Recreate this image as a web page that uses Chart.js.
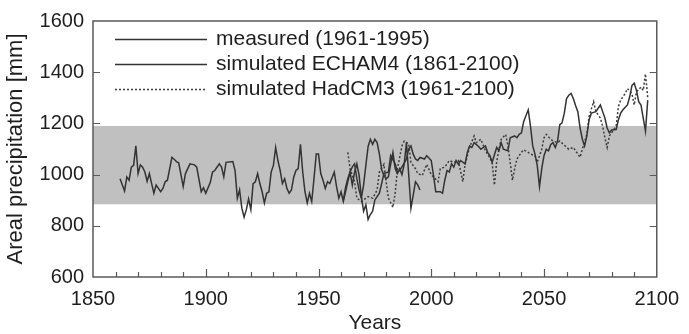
<!DOCTYPE html>
<html>
<head>
<meta charset="utf-8">
<script src="https://cdn.jsdelivr.net/npm/chart.js@4.4.0/dist/chart.umd.min.js"></script>
<style>
  body { margin: 0; background: #fff; }
  #wrap { width: 689px; height: 334px; }
</style>
</head>
<body>
<div id="wrap"><canvas id="ourChart"></canvas></div>
<script>
// tick labels
const xTicks = [1850, 1900, 1950, 2000, 2050, 2100];
const yTicks = [600, 800, 1000, 1200, 1400, 1600];

// grey band (range of measured values)
const bandLow = 884;
const bandHigh = 1190;

const labels = ['measured (1961-1995)', 'simulated ECHAM4 (1861-2100)', 'simulated HadCM3 (1961-2100)'];

const measuredYears = [1961, 1962, 1963, 1964, 1965, 1966, 1967, 1968, 1969, 1970, 1971, 1972, 1973, 1974, 1975, 1976, 1977, 1978, 1979, 1980,
  1981, 1982, 1983, 1984, 1985, 1986, 1987, 1988, 1989, 1990, 1991, 1992, 1993, 1994, 1995];
const measuredValues = [900, 950, 985, 1010, 1030, 1042, 984, 940, 908, 960, 1036, 1110, 1138, 1118, 1138, 1125, 1080, 1020, 997, 984,
  991, 1040, 1087, 1023, 1004, 1023, 1000, 1040, 1125, 1000, 869, 920, 972, 960, 940];

const echamYears = [1862, 1864, 1865, 1866, 1867, 1868, 1869, 1870, 1871, 1872, 1873, 1874, 1875, 1876, 1877, 1878, 1880, 1881, 1882, 1883,
  1885, 1886, 1887, 1888, 1890, 1891, 1893, 1895, 1896, 1898, 1899, 1900, 1902, 1903, 1904, 1906, 1907, 1908, 1909, 1912,
  1913, 1914, 1915, 1916, 1917, 1918, 1919, 1920, 1921, 1922, 1923, 1924, 1925, 1926, 1927, 1928, 1929, 1930, 1931, 1932,
  1933, 1934, 1935, 1936, 1937, 1938, 1939, 1940, 1941, 1942, 1943, 1944, 1945, 1946, 1947, 1948, 1949, 1950, 1951, 1952,
  1953, 1954, 1955, 1957, 1958, 1959, 1960, 1961, 1962, 1963, 1964, 1965, 1966, 1967, 1968, 1969, 1970, 1971, 1972, 1973,
  1974, 1975, 1977, 1978, 1979, 1981, 1982, 1984, 1985, 1986, 1987, 1988, 1989, 1990, 1991, 1992, 1993, 1994, 1995, 1997,
  1998, 2000, 2001, 2002, 2004, 2005, 2006, 2007, 2008, 2009, 2010, 2011, 2012, 2013, 2015, 2016, 2017, 2018, 2019, 2021,
  2022, 2024, 2025, 2026, 2027, 2029, 2030, 2031, 2032, 2034, 2035, 2037, 2038, 2039, 2040, 2041, 2043, 2044, 2045, 2046,
  2047, 2048, 2049, 2050, 2051, 2052, 2053, 2054, 2055, 2056, 2057, 2058, 2059, 2060, 2061, 2062, 2063, 2064, 2065, 2066,
  2067, 2068, 2069, 2070, 2071, 2073, 2075, 2076, 2077, 2078, 2079, 2080, 2082, 2083, 2084, 2085, 2087, 2088, 2089, 2090,
  2091, 2092, 2093, 2094, 2095, 2096];
const echamValues = [984, 936, 991, 978, 1029, 1036, 1112, 1004, 1038, 1029, 1010, 974, 1004, 965, 927, 959, 933, 946, 972, 978,
  1067, 1060, 1051, 1046, 953, 1004, 1042, 1038, 1029, 933, 949, 927, 969, 1010, 1016, 1042, 1029, 991, 1048, 1051,
  1016, 908, 940, 869, 834, 863, 905, 863, 965, 972, 1004, 965, 933, 889, 927, 933, 1010, 1036, 1106, 1055,
  1016, 965, 984, 946, 927, 940, 990, 1016, 1023, 1118, 1010, 933, 889, 927, 895, 984, 1080, 1080, 1004, 978,
  946, 972, 965, 1010, 953, 908, 933, 895, 933, 972, 1010, 959, 1010, 1042, 997, 914, 857, 882, 825, 844,
  857, 901, 927, 965, 1004, 1010, 1074, 1042, 1010, 1016, 1030, 1045, 1061, 1100, 1112, 1080, 1061, 1055, 1067, 1061,
  1074, 1055, 997, 933, 933, 927, 978, 1016, 1010, 1042, 1029, 1055, 1040, 1055, 1042, 1087, 1112, 1106, 1125, 1110,
  1099, 1112, 1087, 1074, 1048, 1106, 1093, 1125, 1099, 1093, 1144, 1151, 1144, 1157, 1163, 1208, 1253, 1189, 1112, 1080,
  1036, 953, 1023, 1074, 1099, 1093, 1118, 1125, 1106, 1130, 1195, 1202, 1240, 1297, 1310, 1317, 1297, 1270, 1246, 1182,
  1138, 1112, 1151, 1214, 1240, 1246, 1272, 1246, 1221, 1182, 1163, 1174, 1176, 1214, 1240, 1253, 1272, 1304, 1348, 1357,
  1329, 1285, 1272, 1221, 1170, 1291];

const hadcmYears = [1963, 1964, 1966, 1967, 1969, 1972, 1974, 1976, 1977, 1979, 1980, 1981, 1983, 1984, 1985, 1987, 1988, 1990, 1991, 1993,
  1994, 1996, 1998, 2000, 2003, 2004, 2006, 2008, 2010, 2012, 2014, 2015, 2017, 2019, 2020, 2022, 2024, 2025, 2027, 2028,
  2029, 2030, 2031, 2033, 2034, 2035, 2036, 2037, 2038, 2040, 2041, 2043, 2044, 2046, 2047, 2049, 2050, 2051, 2053, 2054,
  2056, 2057, 2059, 2061, 2063, 2065, 2066, 2067, 2069, 2070, 2072, 2073, 2075, 2076, 2077, 2078, 2079, 2082, 2083, 2084,
  2086, 2087, 2089, 2090, 2091, 2093, 2094, 2095, 2096];
const hadcmValues = [1087, 1023, 972, 908, 895, 914, 908, 940, 1010, 1040, 972, 908, 872, 927, 1023, 1112, 1131, 1120, 1048, 1023,
  1004, 997, 1040, 1000, 972, 1023, 1029, 1055, 1048, 1055, 972, 1040, 1106, 1151, 1125, 1138, 1093, 1080, 1048, 959,
  1048, 1099, 1138, 1157, 1112, 1048, 978, 1023, 1061, 1087, 1097, 1087, 1080, 1074, 1048, 1099, 1144, 1157, 1138, 1131,
  1125, 1131, 1115, 1099, 1106, 1080, 1068, 1099, 1157, 1227, 1285, 1246, 1221, 1189, 1144, 1106, 1151, 1189, 1266, 1291,
  1317, 1336, 1317, 1272, 1323, 1342, 1329, 1393, 1300];

function toPoints(xs, ys) {
  return xs.map((v, i) => ({ x: v, y: ys[i] }));
}

const lineColor = '#333333';
const textColor = '#1e1e1e';
const axisColor = '#5a5a5a';
const font = 'Liberation Sans, Arial, sans-serif';

// band, frame, inward ticks and legend
const framePlugin = {
  id: 'frame',
  beforeDatasetsDraw(chart) {
    const { ctx, chartArea: a, scales: { x, y } } = chart;
    const top = y.getPixelForValue(bandHigh);
    const bot = y.getPixelForValue(bandLow);
    ctx.save();
    ctx.fillStyle = '#c0c0c0';
    ctx.fillRect(a.left, top, a.right - a.left, bot - top);
    ctx.restore();
  },
  afterDatasetsDraw(chart) {
    const { ctx, chartArea: a, scales: { x, y } } = chart;
    ctx.save();
    ctx.strokeStyle = axisColor;
    ctx.lineWidth = 1.5;
    ctx.strokeRect(a.left, a.top, a.right - a.left, a.bottom - a.top);

    ctx.lineWidth = 1.2;
    ctx.beginPath();
    for (let yr = 1860; yr < 2100; yr += 10) {
      const px = Math.round(x.getPixelForValue(yr)) + 0.5;
      const len = yr % 50 === 0 ? 8 : 5;
      ctx.moveTo(px, a.bottom);
      ctx.lineTo(px, a.bottom - len);
    }
    yTicks.slice(1, -1).forEach(v => {
      const py = Math.round(y.getPixelForValue(v)) + 0.5;
      ctx.moveTo(a.left, py);
      ctx.lineTo(a.left + 7, py);
      ctx.moveTo(a.right, py);
      ctx.lineTo(a.right - 7, py);
    });
    ctx.stroke();

    // legend
    ctx.font = '21px ' + font;
    ctx.textBaseline = 'middle';
    ctx.fillStyle = textColor;
    chart.data.datasets.forEach((ds, i) => {
      const ly = Math.round(39 + i * 25) + 0.5;
      ctx.strokeStyle = ds.borderColor;
      ctx.lineWidth = ds.borderWidth;
      ctx.setLineDash(ds.borderDash || []);
      ctx.beginPath();
      ctx.moveTo(a.left + 22, ly);
      ctx.lineTo(a.left + 114, ly);
      ctx.stroke();
      ctx.setLineDash([]);
      ctx.fillText(ds.label, a.left + 123, ly);
    });
    ctx.restore();
  }
};

new Chart(document.getElementById('ourChart'), {
  type: 'line',
  data: {
    datasets: [
      {
        label: labels[0],
        data: toPoints(measuredYears, measuredValues),
        borderColor: lineColor,
        borderWidth: 1.5,
        pointRadius: 0,
        tension: 0,
      },
      {
        label: labels[1],
        data: toPoints(echamYears, echamValues),
        borderColor: lineColor,
        borderWidth: 1.5,
        pointRadius: 0,
        tension: 0,
      },
      {
        label: labels[2],
        data: toPoints(hadcmYears, hadcmValues),
        borderColor: '#3c3c3c',
        borderWidth: 1.5,
        borderDash: [2, 2],
        pointRadius: 0,
        tension: 0,
      }
    ]
  },
  options: {
    responsive: true,
    maintainAspectRatio: false,
    animation: false,
    devicePixelRatio: 1,
    layout: { padding: { left: 0, right: 22, top: 16, bottom: 0 } },
    plugins: {
      legend: { display: false },
      tooltip: { enabled: false },
    },
    scales: {
      x: {
        type: 'linear',
        min: 1850,
        max: 2100,
        grid: { display: false, drawTicks: false },
        border: { display: false },
        afterBuildTicks: s => { s.ticks = xTicks.map(v => ({ value: v })); },
        afterFit: s => { s.height = 57; },
        ticks: {
          autoSkip: false,
          maxRotation: 0,
          padding: 10,
          color: textColor,
          font: { family: font, size: 20 },
          callback: v => String(v),
        },
        title: {
          display: true,
          text: 'Years',
          color: textColor,
          font: { family: font, size: 21 },
          padding: { top: 0, bottom: -2 },
        }
      },
      y: {
        min: 600,
        max: 1600,
        grid: { display: false, drawTicks: false },
        border: { display: false },
        afterBuildTicks: s => { s.ticks = yTicks.map(v => ({ value: v })); },
        afterFit: s => { s.width = 93; },
        ticks: {
          padding: 9,
          color: textColor,
          font: { family: font, size: 20 },
          callback: v => String(v),
        },
        title: {
          display: true,
          text: 'Areal precipitation [mm]',
          color: textColor,
          font: { family: font, size: 22 },
          padding: { top: 3, bottom: 0 },
        }
      }
    }
  },
  plugins: [framePlugin]
});
</script>
</body>
</html>
